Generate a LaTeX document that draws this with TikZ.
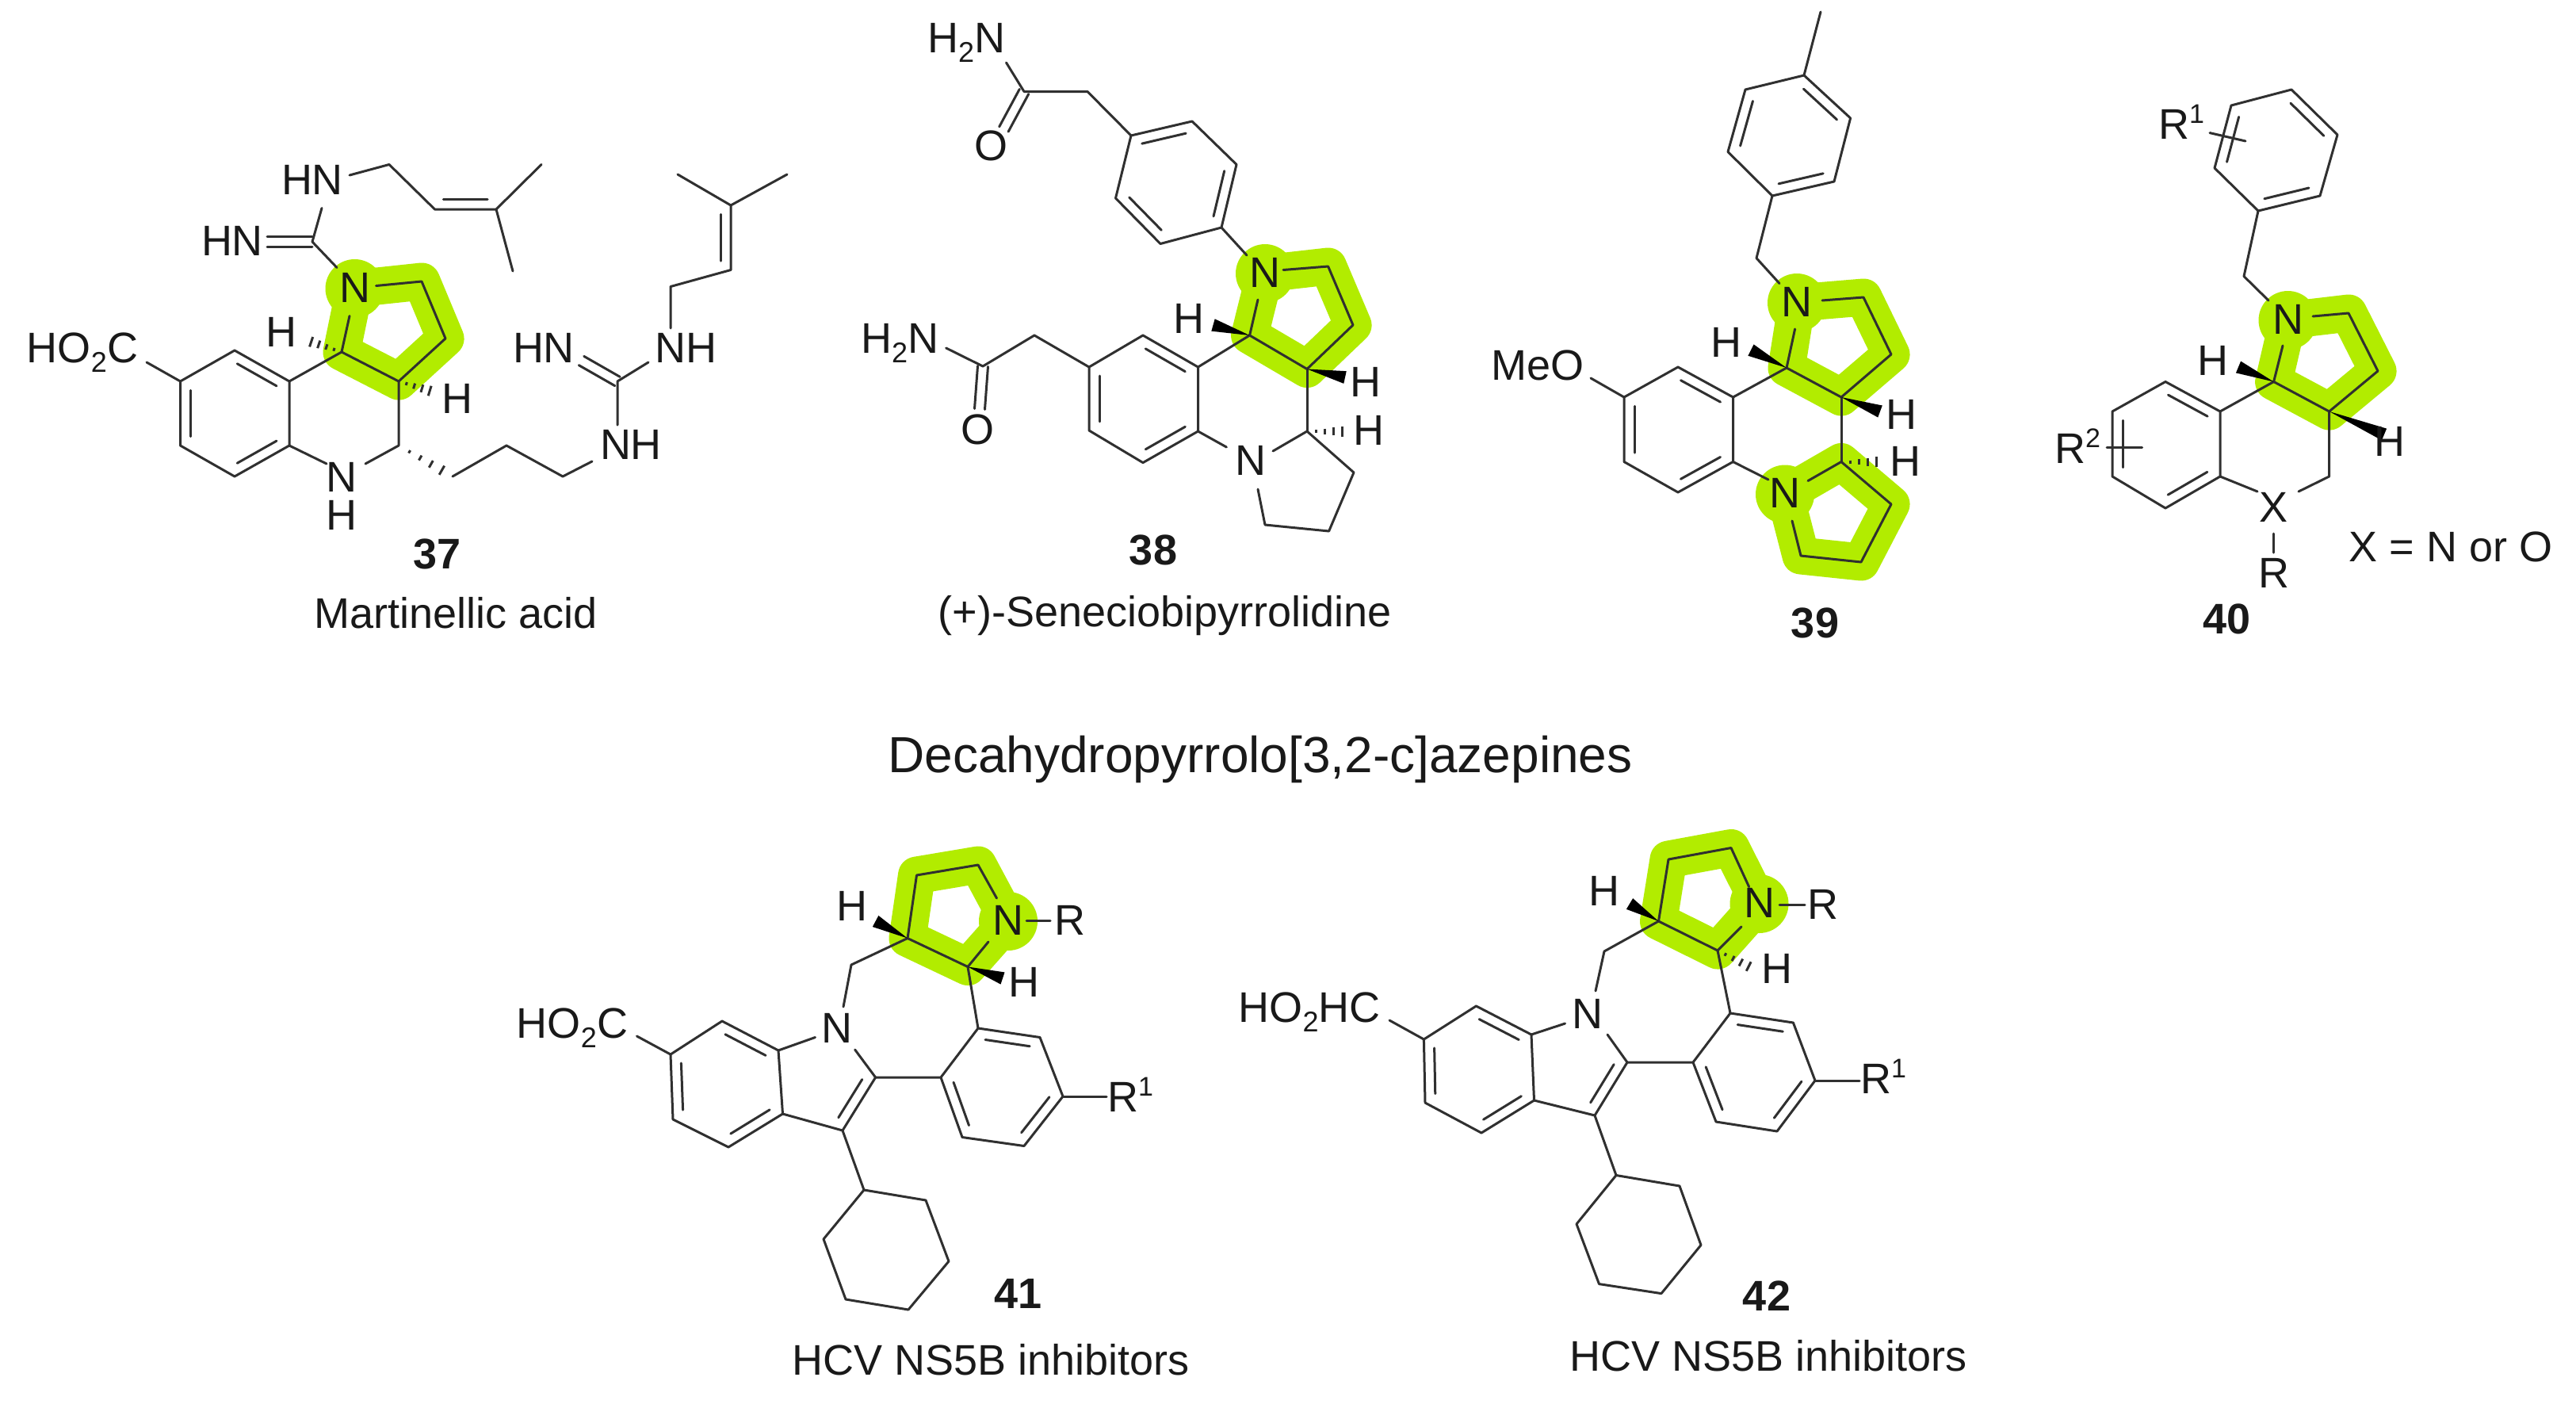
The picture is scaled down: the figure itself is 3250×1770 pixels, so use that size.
\documentclass[tikz,border=0pt]{standalone}
\usepackage{fontspec}
\setmainfont{Liberation Sans}
\usetikzlibrary{calc}
\definecolor{glowcol}{RGB}{178,236,0}
\definecolor{inkcol}{RGB}{25,25,25}
\definecolor{bondcol}{RGB}{48,48,48}
\tikzset{
  bond/.style={draw=bondcol,line width=3pt,line join=round,line cap=round},
  glowline/.style={draw=glowcol,line width=47pt,line join=round},
  atom/.style={inner sep=0pt,text height=39pt,text depth=0pt,text=inkcol,yshift=2.5pt,font=\fontsize{54}{60}\selectfont},
  capt/.style={atom,yshift=6pt},
  numb/.style={atom,yshift=6pt,font=\fontsize{54}{60}\selectfont\bfseries},
  head/.style={atom,yshift=6pt,text height=46pt,font=\fontsize{64}{70}\selectfont}
}
\newcommand\subd[1]{\raisebox{-12pt}{\fontsize{36}{36}\selectfont #1}}
\newcommand\supd[1]{\raisebox{20pt}{\fontsize{34}{34}\selectfont #1}}
% inner line of a double bond, on the right of the travel from #1 to #2
\newcommand\dbl[2]{\draw[bond] ($(#1)!.14!(#2)!13pt!-90:(#2)$) -- ($(#1)!.86!(#2)!13pt!-90:(#2)$);}
% symmetric double bond
\newcommand\dbc[2]{\draw[bond] ($(#1)!6.5pt!90:(#2)$) -- ($(#2)!6.5pt!-90:(#1)$);\draw[bond] ($(#1)!6.5pt!-90:(#2)$) -- ($(#2)!6.5pt!90:(#1)$);}
\newcommand\wdg[2]{\fill[black] (#1) -- ($(#2)!8pt!90:(#1)$) -- ($(#2)!8pt!-90:(#1)$) -- cycle;}
\newcommand\hsh[2]{\foreach \t/\w in {.2/2,.4/3.5,.6/5,.8/6.5,1/8}{\draw[draw=bondcol,line width=3pt] ($(#1)!\t!(#2)!\w pt!90:(#2)$) -- ($(#1)!\t!(#2)!\w pt!-90:(#2)$);}}
\newcommand\glowring[5]{\draw[glowline] (#1)--(#2)--(#3)--(#4)--(#5)--cycle;\fill[glowcol] (#1) circle (37pt);}
\begin{document}
\begin{tikzpicture}[x=1pt,y=-1pt]
\useasboundingbox (0,0) rectangle (3250,1770);
\fill[white] (0,0) rectangle (3250,1770);

% ---------------- 37
\foreach \n/\x/\y in {a1/227.5/481,a2/296/442,a3/365/481,a4/365/562,a5/296/601,a6/227.5/562,
  co/185/457,nha/412/585,nhb/461/585,c2/503/562,c3/503/481,c4/431/444,nn/447.5/364,ne1/474.5/360.5,ne2/441/398.5,ne3/425/337.5,
  p1/532/355,p2/562/427,gu/394/305,gue/337/305,gun/406/262.5,hn1/441/221,ch1/491/207.5,cv1/548.5/264,cq1/626/264,me1/683/207.5,me2/647/342,
  ha/383/428,hb/552/496,hc/571/601,ch2/639/562,ch3/710/601,ne4/747/582,gv/779/481,gve/779/536,gvd/733.5/455,gvn/818/457,ne5/846/414,
  cc1/846/361.5,cc2/922/340.5,cc3/922/259,mm1/855/220,mm2/993/220}
  {\coordinate (A\n) at (\x,\y);}
\glowring{Ann}{Ap1}{Ap2}{Ac3}{Ac4}
\draw[bond] (Aa1)--(Aa2)--(Aa3)--(Aa4)--(Aa5)--(Aa6)--cycle;
\dbl{Aa2}{Aa3}\dbl{Aa4}{Aa5}\dbl{Aa6}{Aa1}
\draw[bond] (Aco)--(Aa1);
\draw[bond] (Aa3)--(Ac4)--(Ac3)--(Ac2)--(Anhb);
\draw[bond] (Aa4)--(Anha);
\draw[bond] (Ac3)--(Ap2)--(Ap1)--(Ane1);
\draw[bond] (Ac4)--(Ane2);
\draw[bond] (Ane3)--(Agu)--(Agun);
\dbc{Agu}{Ague}
\draw[bond] (Ahn1)--(Ach1)--(Acv1)--(Acq1)--(Ame1);
\draw[bond] (Acq1)--(Ame2);
\dbl{Acq1}{Acv1}
\hsh{Ac4}{Aha}
\hsh{Ac3}{Ahb}
\hsh{Ac2}{Ahc}
\draw[bond] (Ahc)--(Ach2)--(Ach3)--(Ane4);
\draw[bond] (Agve)--(Agv)--(Agvn);
\dbc{Agv}{Agvd}
\draw[bond] (Ane5)--(Acc1)--(Acc2)--(Acc3)--(Amm1);
\draw[bond] (Acc3)--(Amm2);
\dbl{Acc3}{Acc2}
\node[atom] (t37co) at (104,440) {HO\subd{2}C};
\node[atom] (t37n) at (431,603) {N};
\node[atom] (t37h) at (431,651) {H};
\node[atom] (t37nb) at (447.5,364) {N};
\node[atom] (t37hn) at (293,305) {HN};
\node[atom] (t37hp) at (394,228) {HN};
\node[atom] (t37ha) at (355,420) {H};
\node[atom] (t37hb) at (577,504) {H};
\node[atom] (t37nh) at (796,562) {NH};
\node[atom] (t37hn2) at (686,440) {HN};
\node[atom] (t37nh2) at (865,440) {NH};
\node[numb] (n37) at (552,706) {37};
\node[capt] (c37) at (575,781) {Martinellic acid};

% ---------------- 38
\foreach \n/\x/\y in {ne/1269.5/79,co/1292/115.5,ch/1372/115.5,r1/1427/171,r2/1504/153,r3/1560/207.5,r4/1541/287,r5/1464/307.5,r6/1407.5/250,
  oe/1266.4/163,nn/1596/345,ne1/1573/322,ne2/1619/340.5,ne3/1587/378,p1/1675.6/336,p2/1707/410,c3/1649/465.5,c4/1576.6/423,
  b1/1511.5/463,b2/1442/423,b3/1374/463,b4/1374/543,b5/1442/583.6,b6/1511.5/544,
  me1/1547.4/564,me2/1606/569,c5/1649/544,c6/1708/596,c7/1676.6/670,c8/1596/662,me3/1587/617,
  wa/1530.5/410,wb/1697/476,hh/1704/544,ch2/1305/423,co2/1240/462,ne4/1193.6/439,oe2/1236/516}
  {\coordinate (B\n) at (\x,\y);}
\glowring{Bnn}{Bp1}{Bp2}{Bc3}{Bc4}
\draw[bond] (Bne)--(Bco)--(Bch)--(Br1)--(Br2)--(Br3)--(Br4)--(Br5)--(Br6)--(Br1);
\dbc{Bco}{Boe}
\dbl{Br1}{Br2}\dbl{Br3}{Br4}\dbl{Br5}{Br6}
\draw[bond] (Br4)--(Bne1);
\draw[bond] (Bne2)--(Bp1)--(Bp2)--(Bc3)--(Bc4)--(Bne3);
\draw[bond] (Bb1)--(Bb2)--(Bb3)--(Bb4)--(Bb5)--(Bb6)--cycle;
\dbl{Bb2}{Bb1}\dbl{Bb4}{Bb3}\dbl{Bb6}{Bb5}
\draw[bond] (Bb1)--(Bc4);
\draw[bond] (Bb6)--(Bme1);
\draw[bond] (Bme2)--(Bc5)--(Bc6)--(Bc7)--(Bc8)--(Bme3);
\draw[bond] (Bc3)--(Bc5);
\wdg{Bc4}{Bwa}
\wdg{Bc3}{Bwb}
\hsh{Bc5}{Bhh}
\draw[bond] (Bb3)--(Bch2)--(Bco2)--(Bne4);
\dbc{Bco2}{Boe2}
\node[atom] (t38nt) at (1219,49) {H\subd{2}N};
\node[atom] (t38ot) at (1250,185) {O};
\node[atom] (t38nb) at (1596,345) {N};
\node[atom] (t38nc) at (1578,582.5) {N};
\node[atom] (t38ha) at (1500,403) {H};
\node[atom] (t38hb) at (1723,483) {H};
\node[atom] (t38hc) at (1727,544) {H};
\node[atom] (t38nl) at (1135,428) {H\subd{2}N};
\node[atom] (t38ol) at (1233.6,543) {O};
\node[numb] (n38) at (1455,701) {38};
\node[capt] (c38) at (1469.5,779) {(+)-Seneciobipyrrolidine};

% ---------------- 39
\foreach \n/\x/\y in {me/2297/15,r1/2276/95,r2/2334.6/149,r3/2314/229,r4/2236/247,r5/2180/191.5,r6/2202/113,
  ch/2216/325.6,nn/2267/382,ne1/2245/357.5,ne2/2299/379,ne3/2264.6/415,p1/2351/375,p2/2386/447,c3/2323/501,c4/2254/464,
  b1/2186.5/501,b2/2117/463,b3/2049/501,b4/2049/582.5,b5/2117/621,b6/2186.5/582.5,oe/2007/477,wa/2209/441.6,wb/2372/519,
  c5/2323/582.5,hh/2379/582.5,mm/2252/623.5,me1/2231/605,me2/2281/606.5,q1/2386/636,q2/2348/709,q3/2272/701,me3/2261/657}
  {\coordinate (C\n) at (\x,\y);}
\glowring{Cnn}{Cp1}{Cp2}{Cc3}{Cc4}
\glowring{Cmm}{Cc5}{Cq1}{Cq2}{Cq3}
\draw[bond] (Cme)--(Cr1);
\draw[bond] (Cr1)--(Cr2)--(Cr3)--(Cr4)--(Cr5)--(Cr6)--cycle;
\dbl{Cr1}{Cr2}\dbl{Cr3}{Cr4}\dbl{Cr5}{Cr6}
\draw[bond] (Cr4)--(Cch)--(Cne1);
\draw[bond] (Cne2)--(Cp1)--(Cp2)--(Cc3)--(Cc4)--(Cne3);
\draw[bond] (Cb1)--(Cb2)--(Cb3)--(Cb4)--(Cb5)--(Cb6)--cycle;
\dbl{Cb2}{Cb1}\dbl{Cb4}{Cb3}\dbl{Cb6}{Cb5}
\draw[bond] (Cb1)--(Cc4);
\draw[bond] (Coe)--(Cb3);
\draw[bond] (Cb6)--(Cme1);
\draw[bond] (Cc3)--(Cc5);
\draw[bond] (Cme2)--(Cc5)--(Cq1)--(Cq2)--(Cq3)--(Cme3);
\wdg{Cc4}{Cwa}
\wdg{Cc3}{Cwb}
\hsh{Cc5}{Chh}
\node[atom] (t39o) at (1940,462) {MeO};
\node[atom] (t39n) at (2267,382) {N};
\node[atom] (t39m) at (2252,623.5) {N};
\node[atom] (t39ha) at (2177.5,433.6) {H};
\node[atom] (t39hb) at (2399,524) {H};
\node[atom] (t39hc) at (2404,583.6) {H};
\node[numb] (n39) at (2290,793) {39};

% ---------------- 40
\foreach \n/\x/\y in {r1/2891/113,r2/2949/170,r3/2927/247,r4/2849/266,r5/2794/212,r6/2815/133,sa/2788/167.6,sb/2833/178,
  ch/2831/348.5,nn/2886.5/404,ne1/2862/379,ne2/2918/399,ne3/2880/436,p1/2963/395,p2/3000/468,c3/2938.6/519,c4/2868.6/481.5,
  b1/2801/519,b2/2732/481.5,b3/2665/519,b4/2665/601,b5/2732/641,b6/2801/601,xa/2848/620,xb/2900/620,c5/2938.6/601,
  xc/2868.6/673,xd/2868.6/697,ta/2658/564,tb/2702.5/564,wa/2824/463,wb/3008/548}
  {\coordinate (D\n) at (\x,\y);}
\glowring{Dnn}{Dp1}{Dp2}{Dc3}{Dc4}
\draw[bond] (Dr1)--(Dr2)--(Dr3)--(Dr4)--(Dr5)--(Dr6)--cycle;
\dbl{Dr3}{Dr4}
\dbl{Dr1}{Dr2}
\dbl{Dr5}{Dr6}
\draw[bond] (Dsa)--(Dsb);
\draw[bond] (Dr4)--(Dch)--(Dne1);
\draw[bond] (Dne2)--(Dp1)--(Dp2)--(Dc3)--(Dc4)--(Dne3);
\draw[bond] (Db1)--(Db2)--(Db3)--(Db4)--(Db5)--(Db6)--cycle;
\dbl{Db2}{Db1}\dbl{Db4}{Db3}\dbl{Db6}{Db5}
\draw[bond] (Db1)--(Dc4);
\draw[bond] (Db6)--(Dxa);
\draw[bond] (Dxb)--(Dc5)--(Dc3);
\draw[bond] (Dxc)--(Dxd);
\draw[bond] (Dta)--(Dtb);
\wdg{Dc4}{Dwa}
\wdg{Dc3}{Dwb}
\node[atom] (t40r1) at (2752,158) {R\supd{1}};
\node[atom] (t40r2) at (2621,567) {R\supd{2}};
\node[atom] (t40n) at (2886.5,404) {N};
\node[atom] (t40x) at (2868.6,641) {X};
\node[atom] (t40r) at (2868.6,724.6) {R};
\node[atom] (t40ha) at (2792,456) {H};
\node[atom] (t40hb) at (3015,558.6) {H};
\node[capt] (t40eq) at (3092,697) {X = N or O};
\node[numb] (n40) at (2809,788) {40};

\node[head] (title) at (1590,960) {Decahydropyrrolo[3,2-c]azepines};

% ---------------- 41
\foreach \n/\x/\y in {co/803.5/1307,b1/846/1330,b2/911/1288,b3/982/1325,b4/987.5/1405,b5/919/1447,b6/849/1412,
  ne1/1028.5/1308.5,ne2/1064/1270,ch/1074/1217,c1/1145/1183.5,ne3/1078.6/1324,c2/1104.6/1359,c3/1063/1426,
  r1/1187/1359,r2/1234/1297,r3/1312/1308.5,r4/1341/1383,r5/1292/1445.5,r6/1214/1434.5,rr/1396/1383,
  y1/1090/1501,y2/1168/1514,y3/1197/1591,y4/1146/1652,y5/1067/1639,y6/1039/1563,
  p1/1156.5/1104,p2/1234/1091,nn/1272/1162,c4/1221/1219.5,ne4/1257.5/1133,ne5/1247/1188,ra/1295/1161,rb/1325/1161,wa/1104.6/1162,wb/1265/1234}
  {\coordinate (E\n) at (\x,\y);}
\glowring{Enn}{Ec4}{Ec1}{Ep1}{Ep2}
\draw[bond] (Eb1)--(Eb2)--(Eb3)--(Eb4)--(Eb5)--(Eb6)--cycle;
\dbl{Eb2}{Eb3}\dbl{Eb4}{Eb5}\dbl{Eb6}{Eb1}
\draw[bond] (Eco)--(Eb1);
\draw[bond] (Eb3)--(Ene1);
\draw[bond] (Ene2)--(Ech)--(Ec1)--(Ep1)--(Ep2)--(Ene4);
\draw[bond] (Ec1)--(Ec4)--(Ene5);
\draw[bond] (Ene3)--(Ec2)--(Ec3)--(Eb4);
\dbl{Ec2}{Ec3}
\draw[bond] (Ec2)--(Er1)--(Er2)--(Er3)--(Er4)--(Er5)--(Er6)--(Er1);
\dbl{Er2}{Er3}\dbl{Er4}{Er5}\dbl{Er6}{Er1}
\draw[bond] (Ec4)--(Er2);
\draw[bond] (Er4)--(Err);
\draw[bond] (Ec3)--(Ey1)--(Ey2)--(Ey3)--(Ey4)--(Ey5)--(Ey6)--(Ey1);
\draw[bond] (Era)--(Erb);
\wdg{Ec1}{Ewa}
\wdg{Ec4}{Ewb}
\node[atom] (t41co) at (722,1292) {HO\subd{2}C};
\node[atom] (t41n) at (1055.6,1298) {N};
\node[atom] (t41m) at (1272,1162) {N};
\node[atom] (t41r) at (1350,1162) {R};
\node[atom] (t41r1) at (1426,1385) {R\supd{1}};
\node[atom] (t41ha) at (1074.6,1144) {H};
\node[atom] (t41hb) at (1292,1240) {H};
\node[numb] (n41) at (1284.6,1639) {41};
\node[capt] (c41) at (1250,1723.5) {HCV NS5B inhibitors};

% ---------------- 42
\foreach \n/\x/\y in {co/1753/1287,b1/1796.4/1311,b2/1862.4/1269,b3/1932/1305,b4/1935.5/1388,b5/1869/1429,b6/1798/1391,
  ne1/1974.6/1291,ne2/2013/1250,ch/2024/1200,c1/2092.5/1162,ne3/2028/1305,c2/2053/1340,c3/2012/1407,
  r1/2136/1340,r2/2183/1278,r3/2262.4/1290,r4/2290/1363,r5/2242/1427,r6/2165/1415,rr/2346/1363,
  y1/2039/1482.5,y2/2119/1496,y3/2146/1570.5,y4/2096/1631.6,y5/2017.5/1619.6,y6/1989/1544,
  p1/2105/1084,p2/2184/1069.5,nn/2219.5/1140,c4/2167/1199,ne4/2206.6/1118.6,ne5/2197/1169,ra/2245/1141,rb/2277/1141,wa/2056/1140,wb/2216/1224}
  {\coordinate (F\n) at (\x,\y);}
\glowring{Fnn}{Fc4}{Fc1}{Fp1}{Fp2}
\draw[bond] (Fb1)--(Fb2)--(Fb3)--(Fb4)--(Fb5)--(Fb6)--cycle;
\dbl{Fb2}{Fb3}\dbl{Fb4}{Fb5}\dbl{Fb6}{Fb1}
\draw[bond] (Fco)--(Fb1);
\draw[bond] (Fb3)--(Fne1);
\draw[bond] (Fne2)--(Fch)--(Fc1)--(Fp1)--(Fp2)--(Fne4);
\draw[bond] (Fc1)--(Fc4)--(Fne5);
\draw[bond] (Fne3)--(Fc2)--(Fc3)--(Fb4);
\dbl{Fc2}{Fc3}
\draw[bond] (Fc2)--(Fr1)--(Fr2)--(Fr3)--(Fr4)--(Fr5)--(Fr6)--(Fr1);
\dbl{Fr2}{Fr3}\dbl{Fr4}{Fr5}\dbl{Fr6}{Fr1}
\draw[bond] (Fc4)--(Fr2);
\draw[bond] (Fr4)--(Frr);
\draw[bond] (Fc3)--(Fy1)--(Fy2)--(Fy3)--(Fy4)--(Fy5)--(Fy6)--(Fy1);
\draw[bond] (Fra)--(Frb);
\wdg{Fc1}{Fwa}
\hsh{Fc4}{Fwb}
\node[atom] (t42co) at (1652,1272) {HO\subd{2}HC};
\node[atom] (t42n) at (2003,1280) {N};
\node[atom] (t42m) at (2219.5,1140) {N};
\node[atom] (t42r) at (2299.6,1142) {R};
\node[atom] (t42r1) at (2376,1362) {R\supd{1}};
\node[atom] (t42ha) at (2024,1125) {H};
\node[atom] (t42hb) at (2242,1223) {H};
\node[numb] (n42) at (2229,1642.6) {42};
\node[capt] (c42) at (2231,1718.5) {HCV NS5B inhibitors};
\end{tikzpicture}
\end{document}
